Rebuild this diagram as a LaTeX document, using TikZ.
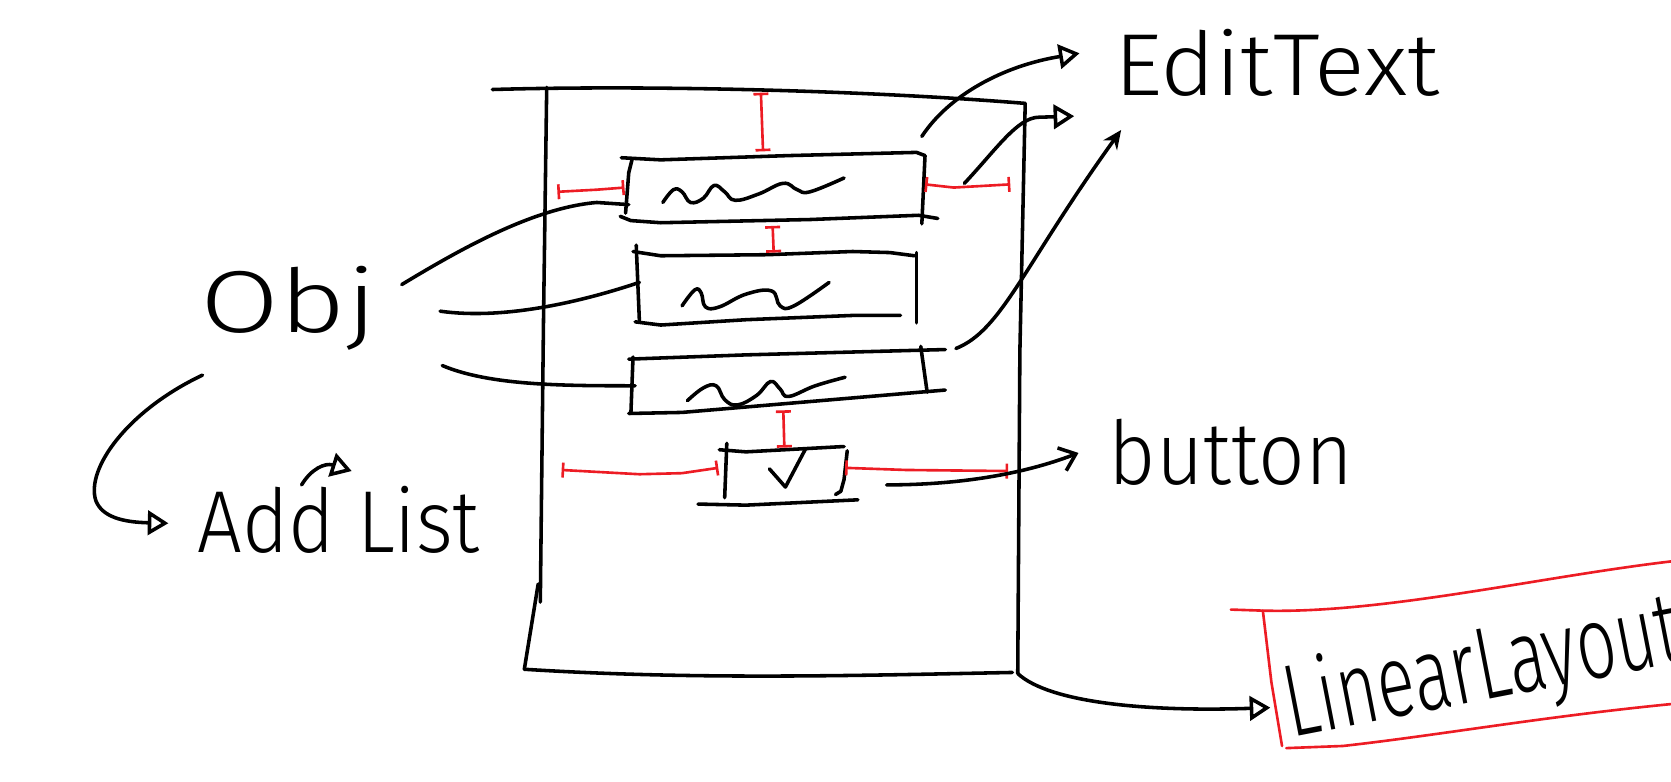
\documentclass[tikz,border=0pt]{standalone}
\usepackage{fontspec}
\newfontfamily\handfont{Fira Sans Light}
\usetikzlibrary{arrows.meta}
\definecolor{paintred}{RGB}{237,28,36}
\begin{document}
\begin{tikzpicture}[x=0.02cm,y=-0.02cm,line cap=round,line join=round,
  ink/.style={line width=1.9pt,black},
  gapline/.style={line width=1.4pt,paintred},
  gap/.style={gapline,{Bar[width=8pt,line width=1.4pt]}-{Bar[width=8pt,line width=1.4pt]}},
  lbl/.style={font=\handfont\fontsize{47}{47}\selectfont,inner sep=0pt,text=black},
  opentip/.style={-{Triangle[open,length=11pt,width=13pt,line width=1.9pt]}},
  vtip/.style={-{Straight Barb[length=8pt,width=13pt,line width=1.9pt]}},
  filltip/.style={-{Stealth[length=10pt,width=9pt]}}]
\useasboundingbox (0,0) rectangle (1568,733);

% ---------- container ----------
\draw[ink] (462,84) .. controls (600,80) and (800,84) .. (962,97);
\draw[ink] (513,82) -- (510,300) -- (507,565);
\draw[ink] (505,548) -- (492,628);
\draw[ink] (492,628) .. controls (650,638) and (800,634) .. (950,631);
\coordinate (contBR) at (955,632);
\draw[ink] (962,97) -- (957,330) -- (contBR);

% ---------- box 1 ----------
\draw[ink] (583,148) -- (620,150) -- (740,146) -- (860,143) -- (868,146);
\draw[ink] (593,150) -- (590,162) -- (587,200);
\draw[ink] (868,146) -- (865,210);
\draw[ink] (582,203) -- (592,207) -- (620,209) -- (760,206) -- (862,202) -- (880,205);
\draw[ink] plot[smooth,tension=0.7] coordinates {(622,190) (632,178) (640,180) (648,190) (660,186) (670,174) (680,180) (690,188) (712,182) (735,172) (748,178) (760,180) (792,167)};

% ---------- box 2 ----------
\draw[ink] (594,236) -- (620,240) -- (720,239) -- (800,236) -- (835,237) -- (858,240);
\draw[ink] (597,230) -- (600,302);
\draw[ink] (860,237) -- (860,303);
\draw[ink] (596,302) -- (620,305) -- (700,300) -- (800,296) -- (845,296);
\draw[ink] plot[smooth,tension=0.7] coordinates {(640,287) (652,272) (658,275) (662,288) (675,288) (700,276) (724,273) (732,287) (745,287) (778,265)};

% ---------- box 3 ----------
\draw[ink] (590,337) -- (700,333) -- (887,328);
\draw[ink] (594,335) -- (592,388);
\draw[ink] (864,325) -- (870,368);
\draw[ink] (590,388) -- (640,387) -- (887,366);
\draw[ink] plot[smooth,tension=0.7] coordinates {(645,376) (660,364) (672,362) (680,375) (692,380) (710,371) (723,358) (732,365) (740,372) (765,362) (793,354)};

% ---------- checkbox ----------
\draw[ink] (675,422) -- (700,424) -- (792,419);
\draw[ink] (682,416) -- (680,467);
\draw[ink] (795,423) -- (792,450) -- (789,461) -- (784,464);
\draw[ink] (655,473) -- (700,474) -- (805,469);
\draw[ink] (722,440) -- (737,457) -- (756,421);

% ---------- red spacing marks ----------
\draw[gap] (714,87) -- (716,142);
\draw[gap] (523,180) -- (560,178) -- (586,176);
\draw[gap] (868,173) -- (895,176) -- (948,173);
\draw[gap] (725,212) -- (726,237);
\draw[gap] (735,385) -- (736,420);
\draw[gap] (527,441) -- (600,445) -- (640,444) -- (674,439);
\draw[gap] (793,439) -- (850,441) -- (946,442);

% ---------- LinearLayout red box ----------
\draw[gapline] (1155,572) -- (1185,573) .. controls (1300,576) and (1450,540) .. (1575,526);
\draw[gapline] (1185,573) -- (1193,640) -- (1203,700);
\draw[gapline] (1207,702) -- (1260,700) .. controls (1350,690) and (1450,672) .. (1575,660);

% ---------- labels ----------
\node[lbl,anchor=base west,xscale=1.07] (edit) at (1045,90) {EditText};
\node[lbl,anchor=base west,xscale=0.93] (button) at (1040,455) {button};
\node[lbl,anchor=base west,xscale=1.3] (obj) at (188,312) {Obj};
\node[lbl,anchor=base west,xscale=0.9] (addlist) at (185,518) {Add List};
\node[lbl,anchor=base west,rotate=11,xscale=0.68,font=\handfont\fontsize{55}{55}\selectfont] (linear) at (1212,692) {LinearLayout};

% ---------- connector end points ----------
\coordinate (oa) at (377,267);
\coordinate (ob) at (413,292);
\coordinate (oc) at (415,343);
\coordinate (od) at (190,352);
\coordinate (b1) at (590,192);
\coordinate (b2) at (600,265);
\coordinate (b3) at (596,362);
\coordinate (addtip) at (158,491);
\coordinate (smallst) at (283,455);
\coordinate (smalltip) at (330,442);
\coordinate (e1s) at (865,128);
\coordinate (e1t) at (1013,50);
\coordinate (e2s) at (905,172);
\coordinate (e2t) at (1008,109);
\coordinate (e3s) at (897,327);
\coordinate (e3t) at (1052,122);
\coordinate (bts) at (832,455);
\coordinate (btt) at (1012,425);
\coordinate (lltip) at (1192,664);

% ---------- connectors ----------
\draw[ink] (oa) .. controls (430,235) and (500,195) .. (560,190) -- (b1);
\draw[ink] (ob) .. controls (470,300) and (540,285) .. (b2);
\draw[ink] (oc) .. controls (460,362) and (530,362) .. (b3);
\draw[ink,opentip] (od) .. controls (120,385) and (80,440) .. (90,470) .. controls (96,485) and (115,490) .. (addtip);
\draw[ink,opentip] (smallst) .. controls (292,440) and (305,434) .. (smalltip);
\draw[ink,opentip] (e1s) .. controls (890,90) and (940,62) .. (e1t);
\draw[ink,opentip] (e2s) .. controls (935,140) and (955,110) .. (975,110) -- (e2t);
\draw[ink,filltip] (e3s) .. controls (940,310) and (960,250) .. (e3t);
\draw[ink,vtip] (bts) .. controls (900,455) and (960,445) .. (btt);
\draw[ink,opentip] (contBR) .. controls (985,660) and (1080,668) .. (lltip);
\end{tikzpicture}
\end{document}
